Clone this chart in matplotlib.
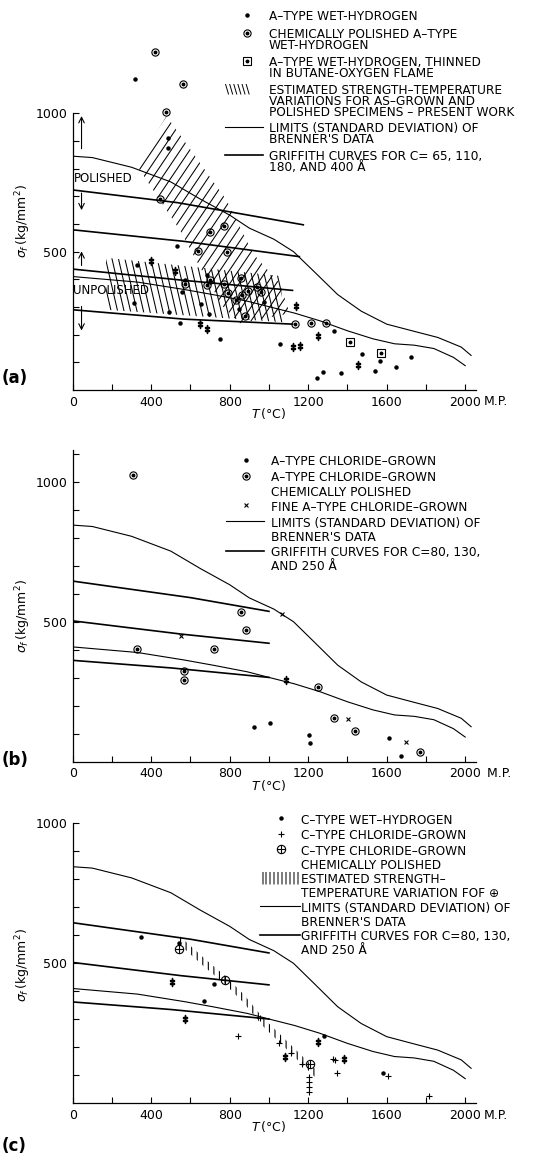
import numpy as np
import matplotlib
matplotlib.use('Agg')
import matplotlib.pyplot as plt
from matplotlib.patches import Polygon
from matplotlib.collections import LineCollection

W, H = 555, 1166
plt.rcParams['font.family'] = 'DejaVu Sans'
plt.rcParams['hatch.linewidth'] = 0.8

# Brenner limits (same in all three panels)
brenner_hi_T = [0, 100, 300, 500, 650, 800, 900, 1025, 1125, 1230, 1350, 1470, 1600, 1740, 1860, 1980, 2030]
brenner_hi_s = [845, 840, 805, 752, 690, 632, 585, 545, 500, 428, 345, 285, 238, 212, 190, 155, 125]
brenner_lo_T = [0, 330, 570, 720, 890, 1000, 1130, 1260, 1400, 1530, 1640, 1740, 1840, 1940, 2000]
brenner_lo_s = [410, 390, 363, 344, 321, 301, 278, 250, 214, 185, 167, 162, 150, 118, 88]

# (a) Griffith curves C = 65, 110, 180, 400 A
ga_T = [[0, 535, 1175], [0, 570, 1155], [0, 570, 1120], [0, 570, 1120]]
ga_s = [[723, 677, 597], [579, 537, 482], [437, 396, 360], [290, 256, 238]]
# (b), (c) Griffith curves C = 80, 130, 250 A
gb_T = [[0, 600, 1000], [0, 550, 1000], [0, 500, 1000]]
gb_s = [[645, 586, 537], [503, 456, 423], [362, 335, 301]]

# (a) data
a_dot_T = [315, 484, 487, 530, 330, 571, 557, 312, 489, 656, 694, 685, 847, 975, 549, 753,
           1057, 1333, 1475, 1567, 1725, 1645, 1538, 1273, 1244, 1367]
a_dot_s = [1123, 909, 876, 522, 453, 398, 355, 313, 283, 309, 273, 416, 293, 317, 241, 183,
           167, 213, 129, 106, 120, 84, 68, 64, 42, 60]
a_dbl_T = [400, 523, 651, 685, 1137, 1250, 1123, 1157, 1453]
a_dbl_s = [468, 430, 239, 220, 305, 195, 154, 158, 90]
a_pol_T = [420, 560, 477, 443, 700, 769, 639, 787, 574, 699, 685, 770, 792, 857, 864, 895,
           941, 960, 830, 878, 1133, 1214, 1290]
a_pol_s = [1222, 1105, 1005, 690, 572, 591, 502, 500, 382, 399, 378, 382, 349, 403, 343, 358,
           373, 355, 325, 268, 238, 243, 241]
a_sq_T = [1415, 1572]
a_sq_s = [175, 135]
pol_band_T = [326, 478, 784, 919, 1055, 1106, 851, 767, 648, 546]
pol_band_s = [812, 990, 686, 493, 385, 277, 241, 301, 445, 578]
unpol_band_T = [170, 1060, 1070, 170]
unpol_band_s = [478, 412, 245, 290]

# (b) data
b_dot_T = [922, 1007, 1202, 1207, 1614, 1675]
b_dot_s = [123, 138, 94, 67, 83, 21]
b_dbl_T = [1085]
b_dbl_s = [293]
b_pol_T = [305, 326, 568, 568, 719, 859, 881, 1250, 1332, 1440, 1772]
b_pol_s = [1025, 402, 324, 293, 404, 536, 469, 268, 156, 110, 36]
b_x_T = [551, 1066, 1401, 1696]
b_x_s = [449, 526, 151, 70]

# (c) data
c_dot_T = [349, 718, 670, 1279, 1580, 541]
c_dot_s = [593, 425, 365, 240, 110, 571]
c_plus_T = [842, 1049, 1114, 1168, 1202, 1202, 1202, 1202, 1327, 1339, 1347, 1607, 1815, 956]
c_plus_s = [242, 214, 181, 140, 95, 77, 60, 42, 157, 155, 110, 98, 27, 304]
c_dbl_T = [505, 570, 1083, 1250, 1381]
c_dbl_s = [433, 300, 165, 218, 157]
c_pol_T = [544, 777, 1207]
c_pol_s = [551, 440, 139]
c_band_T = [540, 675, 777, 870, 970, 1080, 1240]
c_band_hi = [600, 515, 455, 390, 305, 230, 120]
c_band_lo = [570, 485, 425, 360, 275, 200, 90]

fig = plt.figure(figsize=(W / 100, H / 100), dpi=100)


def add_ax(x0, x1, ytop, ybot):
    return fig.add_axes([x0 / W, 1 - ybot / H, (x1 - x0) / W, (ybot - ytop) / H])


def curves(ax, gT, gs):
    ax.plot(brenner_hi_T, brenner_hi_s, color='k', lw=0.8)
    ax.plot(brenner_lo_T, brenner_lo_s, color='k', lw=0.8)
    for T, s in zip(gT, gs):
        ax.plot(T, s, color='k', lw=1.2)


def dots(ax, T, s):
    ax.plot(T, s, 'o', ms=2.2, color='k', ls='none', clip_on=False)


def dbl(ax, T, s):
    ax.plot(T, s, ls='none', marker=r'$\ddagger$', ms=6, color='k', clip_on=False)


def circdot(ax, T, s, mk='o'):
    ax.plot(T, s, mk, ms=5.2, mfc='none', mec='k', mew=0.8, ls='none', clip_on=False)
    ax.plot(T, s, 'o', ms=1.8, color='k', ls='none', clip_on=False)


def hatch_region(ax, T, s, angle, spacing, lw=0.75):
    poly = Polygon(np.column_stack([T, s]), closed=True, facecolor='none', edgecolor='none')
    ax.add_patch(poly)
    bb = ax.get_window_extent()
    w, h = bb.width, bb.height
    a = np.radians(angle)
    d = np.array([np.cos(a), np.sin(a)])
    n = np.array([-np.sin(a), np.cos(a)])
    diag = np.hypot(w, h)
    segs = []
    for k in np.arange(-diag, diag, spacing):
        c = np.array([w / 2, h / 2]) + k * n
        p0, p1 = c - diag * d, c + diag * d
        segs.append([(p0[0] / w, p0[1] / h), (p1[0] / w, p1[1] / h)])
    lc = LineCollection(segs, colors='k', linewidths=lw, transform=ax.transAxes)
    ax.add_collection(lc, autolim=False)
    lc.set_clip_path(poly)


def style(ax, ytop, mp_gap=''):
    ax.set_xlim(0, 2055)
    ax.set_ylim(0, ytop)
    for sp in ['top', 'right']:
        ax.spines[sp].set_visible(False)
    for sp in ['left', 'bottom']:
        ax.spines[sp].set_linewidth(0.9)
    ax.set_xticks([0, 400, 800, 1200, 1600, 2000])
    ax.set_xticklabels(['0', '400', '800', '1200', '1600', '2000'])
    ax.set_xticks([200, 600, 1000, 1400, 1800], minor=True)
    ax.set_yticks([500, 1000])
    ax.set_yticklabels(['500', '1000'])
    ax.set_yticks([v for v in range(100, int(ytop) + 1, 100) if v not in (500, 1000)], minor=True)
    ax.tick_params(which='both', direction='in', length=4, width=0.8, labelsize=9)
    ax.tick_params(axis='x', pad=4)
    ax.tick_params(axis='y', pad=4)
    ax.annotate(mp_gap + 'M.P.', xy=(2000, 0), xycoords=('data', 'axes fraction'),
                xytext=(13, -8.5), textcoords='offset points', ha='left', va='center', fontsize=9)
    ax.annotate(r'$T\,$(°C)', xy=(1000, 0), xycoords=('data', 'axes fraction'),
                xytext=(0, -17), textcoords='offset points', ha='center', va='center', fontsize=9)


# ---------------- (a)
axa = add_ax(72.7, 476, 113.3, 390)
hatch_region(axa, pol_band_T, pol_band_s, 56, 7.7)
hatch_region(axa, unpol_band_T, unpol_band_s, 103, 6.3)
curves(axa, ga_T, ga_s)
dots(axa, a_dot_T, a_dot_s)
dbl(axa, a_dbl_T, a_dbl_s)
circdot(axa, a_pol_T, a_pol_s)
circdot(axa, a_sq_T, a_sq_s, 's')
axa.annotate('', xy=(45, 1000), xytext=(45, 862), arrowprops=dict(arrowstyle='->', lw=0.8))
axa.annotate('', xy=(45, 640), xytext=(45, 722), arrowprops=dict(arrowstyle='->', lw=0.8))
axa.annotate('', xy=(45, 511), xytext=(45, 440), arrowprops=dict(arrowstyle='->', lw=0.8))
axa.annotate('', xy=(45, 205), xytext=(45, 312), arrowprops=dict(arrowstyle='->', lw=0.8))
axa.text(4, 764, 'POLISHED', fontsize=8.5, va='center', ha='left')
axa.text(4, 361, 'UNPOLISHED', fontsize=8.5, va='center', ha='left')
style(axa, 1000)
axa.text(-0.122, 0.61, r'$\sigma_f\,$(kg/mm$^2$)', transform=axa.transAxes, rotation=90,
         ha='center', va='center', fontsize=9)

# ---------------- (b)
axb = add_ax(72.7, 476, 449.5, 761.7)
curves(axb, gb_T, gb_s)
dots(axb, b_dot_T, b_dot_s)
dbl(axb, b_dbl_T, b_dbl_s)
circdot(axb, b_pol_T, b_pol_s)
axb.plot(b_x_T, b_x_s, 'x', ms=3.5, mew=0.8, color='k', ls='none')
style(axb, 1115, ' ')
axb.text(-0.122, 0.467, r'$\sigma_f\,$(kg/mm$^2$)', transform=axb.transAxes, rotation=90,
         ha='center', va='center', fontsize=9)

# ---------------- (c)
axc = add_ax(72.7, 476, 823.3, 1103.3)
axc.fill_between(c_band_T, c_band_lo, c_band_hi, hatch='|||', facecolor='none',
                 edgecolor='k', linewidth=0)
curves(axc, gb_T, gb_s)
dots(axc, c_dot_T, c_dot_s)
axc.plot(c_plus_T, c_plus_s, '+', ms=5, mew=0.8, color='k', ls='none')
dbl(axc, c_dbl_T, c_dbl_s)
axc.plot(c_pol_T, c_pol_s, 'o', ms=6, mfc='none', mec='k', mew=0.8, ls='none')
axc.plot(c_pol_T, c_pol_s, '+', ms=6, mew=0.8, color='k', ls='none')
style(axc, 1000)
axc.text(-0.122, 0.494, r'$\sigma_f\,$(kg/mm$^2$)', transform=axc.transAxes, rotation=90,
         ha='center', va='center', fontsize=9)

# ---------------- legends (pixel overlay)
ov = fig.add_axes([0, 0, 1, 1])
ov.set_xlim(0, W)
ov.set_ylim(H, 0)
ov.axis('off')

FS = 8.7
EM = FS * 100 / 72


def legend(y, pitch, between, xm, xt, xl0, xl1, entries):
    ls = (pitch - 0.236 * EM) / (0.76 * EM)
    for kind, lines in entries:
        if kind == 'dot':
            ov.plot([xm], [y], 'o', ms=2.2, color='k')
        elif kind in ('pol', 'sq'):
            ov.plot([xm], [y], 'o' if kind == 'pol' else 's', ms=5.2, mfc='none', mec='k', mew=0.8)
            ov.plot([xm], [y], 'o', ms=1.8, color='k')
        elif kind == 'x':
            ov.plot([xm], [y], 'x', ms=3.5, mew=0.8, color='k')
        elif kind == '+':
            ov.plot([xm], [y], '+', ms=5, mew=0.8, color='k')
        elif kind == 'oplus':
            ov.plot([xm], [y], 'o', ms=6, mfc='none', mec='k', mew=0.8)
            ov.plot([xm], [y], '+', ms=6, mew=0.8, color='k')
        elif kind == 'hatch_a':
            ov.text(xl0, y, '\\\\\\\\\\\\', fontsize=FS, va='center', ha='left')
        elif kind == 'hatch_c':
            ov.text(xl0, y, '||||||||||', fontsize=FS, va='center', ha='left')
        elif kind == 'thin':
            ov.plot([xl0, xl1], [y, y], color='k', lw=0.8)
        elif kind == 'thick':
            ov.plot([xl0, xl1], [y, y], color='k', lw=1.2)
        ov.text(xt, y - 0.395 * EM, '\n'.join(lines), fontsize=FS, va='top', ha='left',
                linespacing=ls)
        y += (len(lines) - 1) * pitch + between


legend(15, 10, 18, 247, 269, 225, 263, [
    ('dot', ['A–TYPE WET-HYDROGEN']),
    ('pol', ['CHEMICALLY POLISHED A–TYPE', 'WET-HYDROGEN']),
    ('sq', ['A–TYPE WET-HYDROGEN, THINNED', 'IN BUTANE-OXYGEN FLAME']),
    ('hatch_a', ['ESTIMATED STRENGTH–TEMPERATURE', 'VARIATIONS FOR AS–GROWN AND',
                 'POLISHED SPECIMENS – PRESENT WORK']),
    ('thin', ['LIMITS (STANDARD DEVIATION) OF', "BRENNER'S DATA"]),
    ('thick', ['GRIFFITH CURVES FOR C= 65, 110,', '180, AND 400 Å']),
])

legend(460, 13.3, 16, 246, 271, 226, 264, [
    ('dot', ['A–TYPE CHLORIDE–GROWN']),
    ('pol', ['A–TYPE CHLORIDE–GROWN', 'CHEMICALLY POLISHED']),
    ('x', ['FINE A–TYPE CHLORIDE–GROWN']),
    ('thin', ['LIMITS (STANDARD DEVIATION) OF', "BRENNER'S DATA"]),
    ('thick', ['GRIFFITH CURVES FOR C=80, 130,', 'AND 250 Å']),
])

legend(818.3, 13, 15.5, 281, 301, 260, 300, [
    ('dot', ['C–TYPE WET–HYDROGEN']),
    ('+', ['C–TYPE CHLORIDE–GROWN']),
    ('oplus', ['C–TYPE CHLORIDE–GROWN', 'CHEMICALLY POLISHED']),
    ('hatch_c', ['ESTIMATED STRENGTH–', 'TEMPERATURE VARIATION FOF ⊕']),
    ('thin', ['LIMITS (STANDARD DEVIATION) OF', "BRENNER'S DATA"]),
    ('thick', ['GRIFFITH CURVES FOR C=80, 130,', 'AND 250 Å']),
])

ov.text(2, 378, '(a)', fontsize=12, fontweight='bold', va='center', ha='left')
ov.text(2, 760, '(b)', fontsize=12, fontweight='bold', va='center', ha='left')
ov.text(2, 1146, '(c)', fontsize=12, fontweight='bold', va='center', ha='left')

fig.savefig('out.png', dpi=100)
